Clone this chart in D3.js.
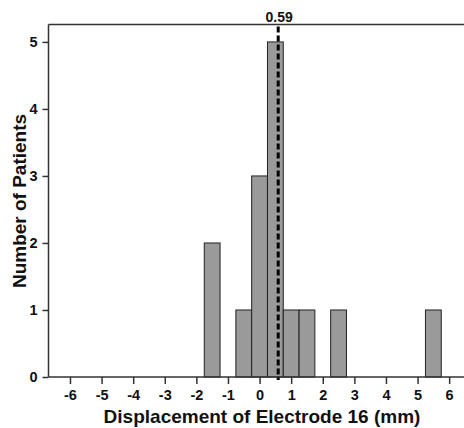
<!DOCTYPE html>
<html>
<head>
<meta charset="utf-8">
<script src="https://cdn.jsdelivr.net/npm/d3@7"></script>
<style>
  html, body { margin: 0; padding: 0; background: #fff; }
  svg { display: block; font-family: "Liberation Sans", Arial, sans-serif; }
</style>
</head>
<body>
<svg id="chart" width="464" height="428"></svg>
<script>
// Histogram bins (mm), bin width 0.5
const binStart = [-1.75, -0.75, -0.25, 0.25, 0.75, 1.25, 2.25, 5.25];
const binEnd   = [-1.25, -0.25,  0.25, 0.75, 1.25, 1.75, 2.75, 5.75];
const counts   = [2, 1, 3, 5, 1, 1, 1, 1];
const xTicks = [-6, -5, -4, -3, -2, -1, 0, 1, 2, 3, 4, 5, 6];
const yTicks = [0, 1, 2, 3, 4, 5];
const meanValue = [0.59];

const svg = d3.select("#chart");
const plotLeft = 48.5, plotRight = 464, plotTop = 24.5, plotBottom = 377;
const ink = "#111";

const x = d3.scaleLinear().domain([-6.68, 6.47]).range([plotLeft, plotRight]);
const y = d3.scaleLinear().domain([0, 5.26]).range([plotBottom, plotTop]);

// bars
svg.append("g").selectAll("rect")
  .data(counts)
  .join("rect")
  .attr("x", (d, i) => x(binStart[i]))
  .attr("width", (d, i) => x(binEnd[i]) - x(binStart[i]))
  .attr("y", d => y(d))
  .attr("height", d => y(0) - y(d))
  .attr("fill", "#9a9a9a")
  .attr("stroke", "#222")
  .attr("stroke-width", 1);

// x axis
const xAxis = svg.append("g")
  .attr("transform", `translate(0,${plotBottom})`)
  .call(d3.axisBottom(x).tickValues(xTicks).tickSize(7).tickPadding(6).tickFormat(d3.format("d")));
xAxis.select(".domain").attr("d", `M${plotLeft},0H${plotRight}`).attr("stroke", "#333").attr("stroke-width", 1.5);
xAxis.selectAll(".tick line").attr("stroke", "#333").attr("stroke-width", 1.5);
xAxis.selectAll(".tick text")
  .attr("font-size", 14.5).attr("font-weight", "bold").attr("fill", ink)
  .attr("font-family", "Liberation Sans, Arial, sans-serif")
  .text(d => d < 0 ? "-" + Math.abs(d) : d);

// y axis
const yAxis = svg.append("g")
  .attr("transform", `translate(${plotLeft},0)`)
  .call(d3.axisLeft(y).tickValues(yTicks).tickSize(6).tickPadding(5).tickFormat(d3.format("d")));
yAxis.select(".domain").attr("d", `M0,${plotBottom}V${plotTop}`).attr("stroke", "#333").attr("stroke-width", 1.5);
yAxis.selectAll(".tick line").attr("stroke", "#333").attr("stroke-width", 1.5);
yAxis.selectAll(".tick text")
  .attr("font-size", 14.5).attr("font-weight", "bold").attr("fill", ink)
  .attr("font-family", "Liberation Sans, Arial, sans-serif");

// top frame line
svg.append("line")
  .attr("x1", plotLeft).attr("x2", plotRight).attr("y1", plotTop).attr("y2", plotTop)
  .attr("stroke", "#333").attr("stroke-width", 1.5);

// mean marker
svg.append("line")
  .attr("x1", x(meanValue[0])).attr("x2", x(meanValue[0]))
  .attr("y1", plotTop + 2).attr("y2", plotBottom + 3)
  .attr("stroke", "#000").attr("stroke-width", 3)
  .attr("stroke-dasharray", "6,3");
svg.append("text")
  .attr("x", x(meanValue[0]) + 1).attr("y", 22)
  .attr("text-anchor", "middle")
  .attr("font-size", 14).attr("font-weight", "bold").attr("fill", ink)
  .text(meanValue[0].toFixed(2));

// axis titles
svg.append("text")
  .attr("x", 262).attr("y", 423)
  .attr("text-anchor", "middle")
  .attr("font-size", 19).attr("font-weight", "bold").attr("fill", ink)
  .text("Displacement of Electrode 16 (mm)");
svg.append("text")
  .attr("transform", `translate(26,201) rotate(-90)`)
  .attr("text-anchor", "middle")
  .attr("font-size", 19).attr("font-weight", "bold").attr("fill", ink)
  .text("Number of Patients");
</script>
</body>
</html>
